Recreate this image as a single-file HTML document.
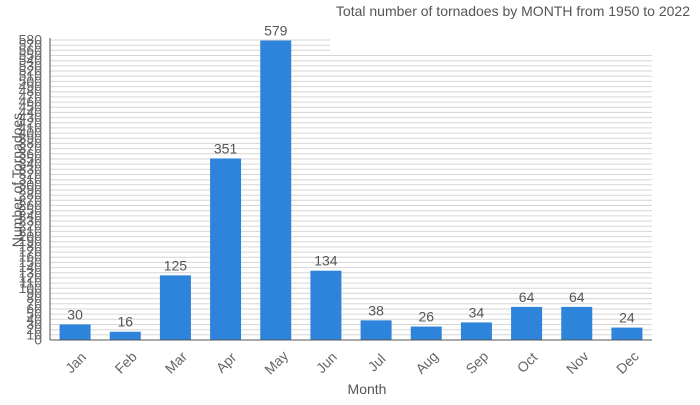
<!DOCTYPE html><html><head><style>body{margin:0;background:#fff}svg{font-family:"Liberation Sans","DejaVu Sans",sans-serif}</style></head><body>
<svg id="s" width="700" height="400" xmlns="http://www.w3.org/2000/svg"></svg>
<script>
(function(){
var s=document.getElementById('s'),h='';
var y0=340,yt=40,x0=50,x1=652;
function Y(v){return y0-(y0-yt)*v/580;}
for(var v=10;v<=580;v+=10){var y=Y(v).toFixed(1);h+='<line x1="'+x0+'" x2="'+(v>=560?330:x1)+'" y1="'+y+'" y2="'+y+'" stroke="#d6d6d6" stroke-width="1"/>';}
for(var v=0;v<=580;v+=10){h+='<text x="42" y="'+(Y(v)+4.5).toFixed(1)+'" text-anchor="end" font-size="14" fill="#666">'+v+'</text>';}
var m=['Jan','Feb','Mar','Apr','May','Jun','Jul','Aug','Sep','Oct','Nov','Dec'],d=[30,16,125,351,579,134,38,26,34,64,64,24];
var bw=(x1-x0)/12;
for(var i=0;i<12;i++){var cx=x0+bw*i+bw/2;var y=Y(d[i]);
h+='<rect x="'+(cx-15.5)+'" y="'+y+'" width="31" height="'+(y0-y)+'" fill="#2e84da"/>';
h+='<text x="'+cx+'" y="'+(y-5)+'" text-anchor="middle" font-size="14" fill="#555">'+d[i]+'</text>';
h+='<text transform="translate('+(cx+4)+',366) rotate(-45)" text-anchor="middle" font-size="14" fill="#666">'+m[i]+'</text>';}
h+='<line x1="50" x2="50" y1="38" y2="340" stroke="#555"/><line x1="50" x2="652" y1="340" y2="340" stroke="#555"/>';
h+='<text x="367" y="394" text-anchor="middle" font-size="14" fill="#555">Month</text>';
h+='<text transform="translate(22,180) rotate(-90)" text-anchor="middle" font-size="14" fill="#555">Number of Tornadoes</text>';
h+='<text x="690" y="16" text-anchor="end" font-size="14" fill="#555">Total number of tornadoes by MONTH from 1950 to 2022</text>';
s.innerHTML=h;
})();
</script></body></html>
